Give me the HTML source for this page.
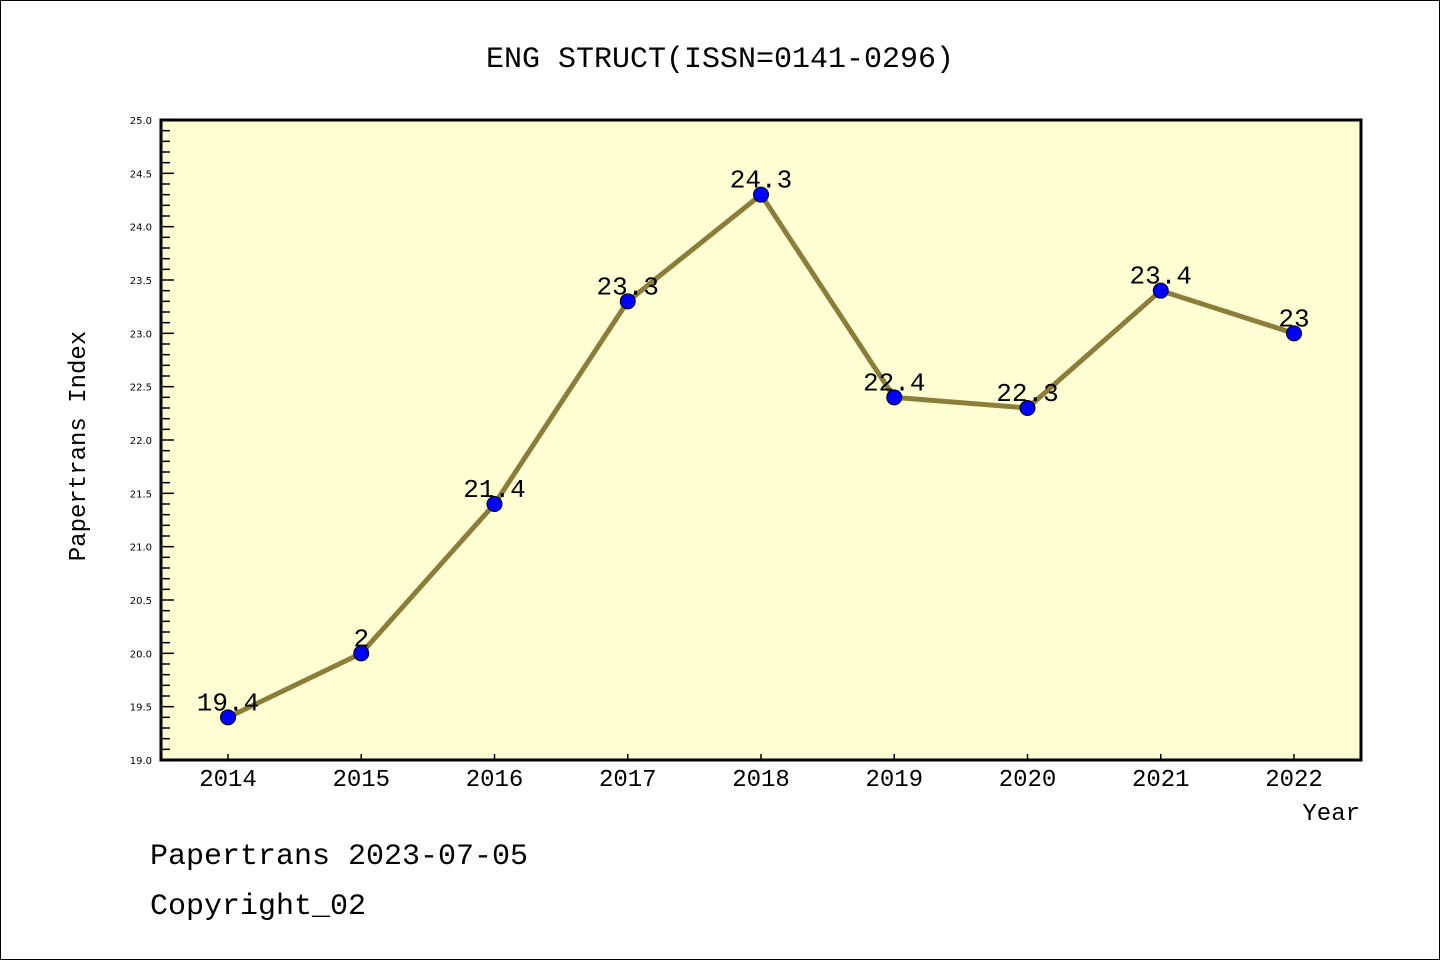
<!DOCTYPE html>
<html><head><meta charset="utf-8"><style>
body{margin:0;background:#fff}
svg{display:block;font-family:"Liberation Mono","DejaVu Sans Mono",monospace}
</style></head><body>
<svg id="c" width="1440" height="960">
<rect x="0.5" y="0.5" width="1439" height="959" fill="#fff" stroke="#000"/>
<text x="720" y="67" text-anchor="middle" font-size="30">ENG STRUCT(ISSN=0141-0296)</text>
<rect x="161" y="120" width="1200" height="640" fill="#ffffd3"/>
<g id="axes"></g>
<g id="marks"></g>
<text x="1360" y="820" text-anchor="end" font-size="24">Year</text>
<text transform="translate(85,446) rotate(-90)" text-anchor="middle" font-size="24">Papertrans Index</text>
<text x="150" y="864" font-size="30">Papertrans 2023-07-05</text>
<text x="150" y="914" font-size="30">Copyright_02</text>
<rect x="161" y="120" width="1200" height="640" fill="none" stroke="#000" stroke-width="3"/>
</svg>
<script>
const years=["2014","2015","2016","2017","2018","2019","2020","2021","2022"];
const values=[19.4,20.0,21.4,23.3,24.3,22.4,22.3,23.4,23.0];
const labels=["19.4","2","21.4","23.3","24.3","22.4","22.3","23.4","23"];
const yTicks=[19.0,19.5,20.0,20.5,21.0,21.5,22.0,22.5,23.0,23.5,24.0,24.5,25.0];
const NS="http://www.w3.org/2000/svg";
function X(i){return 228+i*133.25;}
function Y(v){return 760-(v-19)/6*640;}
function mk(t,a,p){const e=document.createElementNS(NS,t);for(const k in a)e.setAttribute(k,a[k]);p.appendChild(e);return e;}
const ax=document.getElementById('axes'),mg=document.getElementById('marks');
for(let k=0;k<=60;k++){const v=19+k*0.1;const major=k%5===0;
 const l=mk('line',{x1:161,x2:161+(major?13:9),y1:Y(v),y2:Y(v),stroke:'#000','stroke-width':1.5},ax);
 }
yTicks.forEach(v=>{const t=mk('text',{x:152,y:Y(v)+4,'text-anchor':'end','font-size':10,'font-family':'DejaVu Sans,sans-serif'},ax);t.textContent=v.toFixed(1);
 });
years.forEach((y,i)=>{const l=mk('line',{x1:X(i),x2:X(i),y1:760,y2:754,stroke:'#000','stroke-width':1.5},ax);
 
 const t=mk('text',{x:X(i),y:786,'text-anchor':'middle','font-size':24},ax);t.textContent=y;
 });
const pl=mk('polyline',{points:values.map((v,i)=>X(i)+','+Y(v)).join(' '),fill:'none',stroke:'#8b7d3a','stroke-width':5},mg);

values.forEach((v,i)=>{const t=mk('text',{x:X(i),y:Y(v)-7,'text-anchor':'middle','font-size':26},mg);t.textContent=labels[i];
 });
values.forEach((v,i)=>{const c=mk('circle',{cx:X(i),cy:Y(v),r:7.5,fill:'#0000ff',stroke:'#000','stroke-width':1},mg);
 });
</script>
</body></html>
